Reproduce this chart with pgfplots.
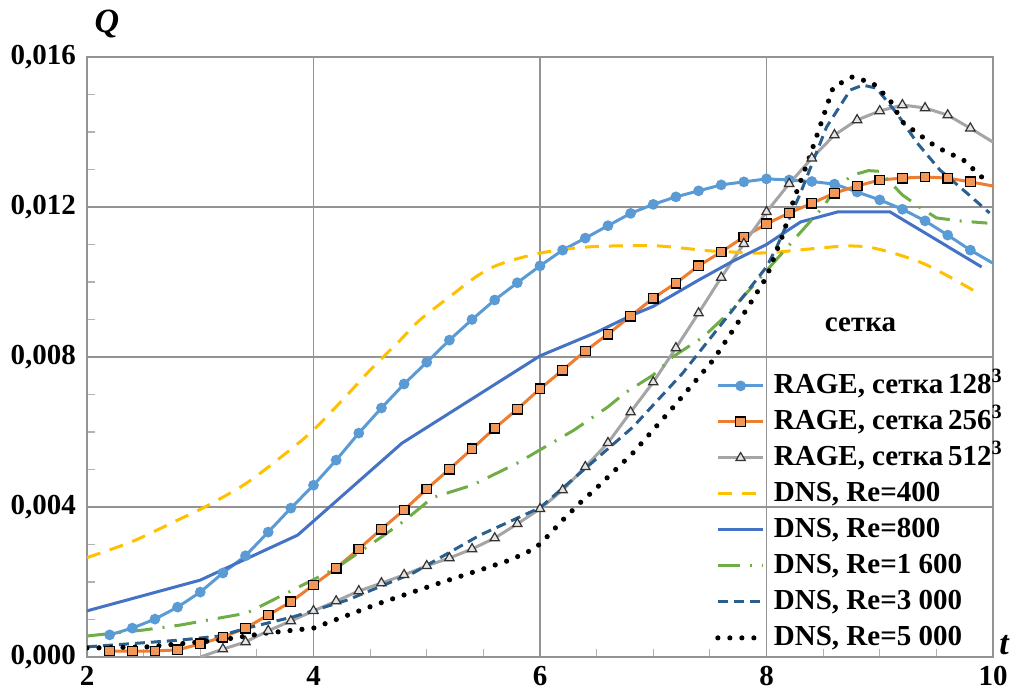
\documentclass[border=0pt]{standalone}
\usepackage{fontspec}
\setmainfont{Liberation Serif}
\usepackage{pgfplots}
\pgfplotsset{compat=1.18}
\usetikzlibrary{calc}
\definecolor{c128}{HTML}{5B9BD5}
\definecolor{c256}{HTML}{ED7D31}
\definecolor{c512}{HTML}{A5A5A5}
\definecolor{d400}{HTML}{FFC000}
\definecolor{d800}{HTML}{4472C4}
\definecolor{d1600}{HTML}{70AD47}
\definecolor{d3000}{HTML}{2B5F8F}
\pgfplotsset{
  r128/.style={color=c128, line width=1.5pt, mark=*, mark size=1.9pt, mark options={solid, fill=c128, draw=c128}},
  r256/.style={color=c256, line width=1.5pt, mark=square*, mark size=2.4pt, mark options={solid, fill=c256!80!white, draw=black, line width=0.6pt}},
  r512/.style={color=c512, line width=1.5pt, mark=triangle*, mark size=2.7pt, mark options={solid, fill=gray!20, draw=black!80, line width=0.6pt}},
}
\begin{document}
\begin{tikzpicture}
\begin{axis}[
  scale only axis, width=453pt, height=300pt,
  xmin=2, xmax=10, ymin=0, ymax=0.016,
  xtick={2,4,6,8,10}, ytick={0,0.004,0.008,0.012,0.016},
  minor x tick num=3, minor y tick num=3,
  grid=major, major grid style={draw=gray!85, line width=0.7pt},
  axis line style={draw=gray!85, line width=0.7pt},
  tick pos=left, tick align=inside, major tick length=0pt, minor tick length=4pt,
  minor tick style={draw=gray!60, line width=0.6pt},
  scaled y ticks=false,
  /pgf/number format/assume math mode=true,
  ticklabel style={font=\bfseries\fontsize{14.5}{15}\selectfont},
  yticklabel style={/pgf/number format/.cd, fixed, fixed zerofill, precision=3, use comma, /tikz/.cd, xshift=-2pt},
  xticklabel style={yshift=-1pt},
  legend cell align=left,
  legend image code/.code={\draw[mark repeat=2,mark phase=2,#1] plot coordinates {(0cm,0cm) (0.4cm,0cm) (0.8cm,0cm)};},
  legend style={draw=none, fill=none, inner sep=0pt, at={(0.693,0.475)}, anchor=north west,
    font=\bfseries\fontsize{14.5}{15}\selectfont,
    nodes={inner sep=0pt, text height=10.5pt, text depth=3pt},
    row sep=4.5pt, column sep=4pt},
]
% RAGE 128^3
\addplot[r128] coordinates {
(2.2,0.00059) (2.4,0.00077) (2.6,0.00101) (2.8,0.00133) (3.0,0.00173) (3.2,0.00224)
(3.4,0.00270) (3.6,0.00333) (3.8,0.00397) (4.0,0.00458) (4.2,0.00525) (4.4,0.00597)
(4.6,0.00664) (4.8,0.00728) (5.0,0.00786) (5.2,0.00845) (5.4,0.00900) (5.6,0.00952)
(5.8,0.00998) (6.0,0.01043) (6.2,0.01085) (6.4,0.01117) (6.6,0.01150) (6.8,0.01183)
(7.0,0.01207) (7.2,0.01227) (7.4,0.01243) (7.6,0.01259) (7.8,0.01267) (8.0,0.01275)
(8.2,0.01272) (8.4,0.01268) (8.6,0.01261) (8.8,0.01240) (9.0,0.01219) (9.2,0.01194)
(9.4,0.01163) (9.6,0.01125) (9.8,0.01085)};
\addlegendentry{RAGE, сетка\,128\textsuperscript{3}}
% RAGE 256^3
\addplot[r256] coordinates {
(2.2,0.00016) (2.4,0.00016) (2.6,0.00016) (2.8,0.00019) (3.0,0.00035) (3.2,0.00053)
(3.4,0.00077) (3.6,0.00112) (3.8,0.00147) (4.0,0.00192) (4.2,0.00237) (4.4,0.00288)
(4.6,0.00341) (4.8,0.00392) (5.0,0.00448) (5.2,0.00501) (5.4,0.00555) (5.6,0.00610)
(5.8,0.00661) (6.0,0.00715) (6.2,0.00765) (6.4,0.00816) (6.6,0.00861) (6.8,0.00909)
(7.0,0.00957) (7.2,0.00997) (7.4,0.01043) (7.6,0.01080) (7.8,0.01120) (8.0,0.01155)
(8.2,0.01184) (8.4,0.01210) (8.6,0.01237) (8.8,0.01256) (9.0,0.01272) (9.2,0.01277)
(9.4,0.01280) (9.6,0.01277) (9.8,0.01267)};
\addlegendentry{RAGE, сетка\,256\textsuperscript{3}}
% RAGE 512^3
\addplot[r512] coordinates {
(3.2,0.00021) (3.4,0.00040) (3.6,0.00070) (3.8,0.00096) (4.0,0.00123) (4.2,0.00149)
(4.4,0.00176) (4.6,0.00197) (4.8,0.00219) (5.0,0.00243) (5.2,0.00264) (5.4,0.00288)
(5.6,0.00317) (5.8,0.00355) (6.0,0.00395) (6.2,0.00445) (6.4,0.00507) (6.6,0.00571)
(6.8,0.00653) (7.0,0.00733) (7.2,0.00824) (7.4,0.00917) (7.6,0.01012) (7.8,0.01102)
(8.0,0.01187) (8.2,0.01262) (8.4,0.01330) (8.6,0.01392) (8.8,0.01432) (9.0,0.01456)
(9.2,0.01472) (9.4,0.01464) (9.6,0.01445) (9.8,0.01410)};
\addlegendentry{RAGE, сетка\,512\textsuperscript{3}}
% DNS Re=400
\addplot[color=d400, line width=1.5pt, dash pattern=on 7pt off 5pt, smooth] coordinates {
(2.0,0.00265) (2.4,0.00308) (2.8,0.00365) (3.06,0.00403) (3.4,0.00462) (3.7,0.00530)
(3.97,0.00597) (4.23,0.00677) (4.5,0.00765) (4.75,0.00840) (4.94,0.00899) (5.2,0.00960)
(5.44,0.01015) (5.65,0.01048) (6.0,0.01077) (6.4,0.01093) (6.82,0.01097) (7.05,0.01096)
(7.27,0.01090) (7.5,0.01083) (7.7,0.01080) (7.9,0.01077) (8.1,0.01080) (8.45,0.01090)
(8.7,0.01096) (8.9,0.01093) (9.12,0.01077) (9.38,0.01050) (9.62,0.01013) (9.9,0.00965)};
\addlegendentry{DNS, Re=400}
% DNS Re=800
\addplot[color=d800, line width=1.5pt] coordinates {
(2.0,0.00123) (3.0,0.00205) (3.86,0.00325) (4.78,0.00570) (6.0,0.00803) (6.5,0.00866)
(6.8,0.00910) (7.0,0.00935) (7.4,0.01005) (7.7,0.01055) (8.0,0.01100) (8.3,0.01160)
(8.63,0.01187) (9.09,0.01187) (9.9,0.01040)};
\addlegendentry{DNS, Re=800}
% DNS Re=1600
\addplot[color=d1600, line width=1.5pt, dash pattern=on 11pt off 5pt on 1pt off 5pt] coordinates {
(2.0,0.00056) (2.5,0.00072) (2.82,0.00085) (3.41,0.00117) (3.82,0.00179) (4.2,0.00237)
(4.6,0.00320) (4.81,0.00365) (5.05,0.00425) (5.4,0.00458) (5.8,0.00517) (6.1,0.00570)
(6.3,0.00605) (6.6,0.00667) (6.75,0.00704) (7.0,0.00752) (7.17,0.00800) (7.44,0.00853)
(7.63,0.00907) (7.85,0.00979) (8.0,0.01030) (8.24,0.01112) (8.5,0.01200) (8.62,0.01253)
(8.76,0.01285) (8.9,0.01297) (9.0,0.01295) (9.2,0.01232) (9.35,0.01200) (9.5,0.01171)
(9.7,0.01163) (9.95,0.01157)};
\addlegendentry{DNS, Re=1~600}
% DNS Re=3000
\addplot[color=d3000, line width=1.5pt, dash pattern=on 5pt off 3pt] coordinates {
(2.0,0.00027) (2.82,0.00045) (3.17,0.00056) (3.41,0.00077) (3.82,0.00107) (4.3,0.00152)
(4.88,0.00224) (5.47,0.00325) (6.0,0.00398) (6.18,0.00445) (6.82,0.00613) (7.26,0.00757)
(7.7,0.00925) (8.0,0.01040) (8.09,0.01093) (8.3,0.01237) (8.53,0.01413) (8.74,0.01512)
(8.85,0.01525) (8.97,0.01517) (9.15,0.01450) (9.33,0.01371) (9.53,0.01299) (9.77,0.01237)
(9.97,0.01184)};
\addlegendentry{DNS, Re=3~000}
% DNS Re=5000
\addplot[color=black, line width=2.6pt, line cap=round, dash pattern=on 0pt off 6pt] coordinates {
(2.0,0.00024) (2.53,0.00027) (3.17,0.00045) (3.59,0.00064) (4.0,0.00077) (4.35,0.00117)
(4.59,0.00144) (5.09,0.00195) (5.47,0.00232) (5.74,0.00259) (5.91,0.00283) (6.0,0.00301)
(6.07,0.00323) (6.2,0.00365) (6.35,0.00410) (6.49,0.00448) (6.7,0.00509) (6.82,0.00544)
(7.17,0.00664) (7.53,0.00792) (7.82,0.00925) (8.0,0.01013) (8.15,0.01130) (8.24,0.01219)
(8.38,0.01333) (8.47,0.01413) (8.59,0.01520) (8.76,0.01547) (8.94,0.01530) (9.09,0.01485)
(9.2,0.01427) (9.33,0.01397) (9.5,0.01360) (9.74,0.01325) (9.9,0.01280)};
\addlegendentry{DNS, Re=5~000}
% line-only ends of the RAGE series
\addplot[r128, no marks, forget plot] coordinates {(9.8,0.01085) (10.0,0.01050)};
\addplot[r256, no marks, forget plot] coordinates {(9.8,0.01267) (10.0,0.01256)};
\addplot[r512, no marks, forget plot] coordinates {(3.0,0.0) (3.2,0.00021)};
\addplot[r512, no marks, forget plot] coordinates {(9.8,0.01410) (10.0,0.01373)};
\node[font=\bfseries\fontsize{14.5}{15}\selectfont] at (axis cs:8.83,0.00885) {сетка};
\coordinate (SW) at (rel axis cs:0,0);
\coordinate (NE) at (rel axis cs:1,1);
\coordinate (NW) at (rel axis cs:0,1);
\coordinate (SE) at (rel axis cs:1,0);
\end{axis}
\node[font=\bfseries\itshape\fontsize{17}{17}\selectfont] at ($(NW)+(10pt,16.5pt)$) {Q};
\node[font=\bfseries\itshape\fontsize{17}{17}\selectfont] at ($(SE)+(5.5pt,6pt)$) {t};
\pgfresetboundingbox
\useasboundingbox ($(SW)+(-43.5pt,-18.5pt)$) rectangle ($(NE)+(10pt,28.5pt)$);
\end{tikzpicture}
\end{document}
